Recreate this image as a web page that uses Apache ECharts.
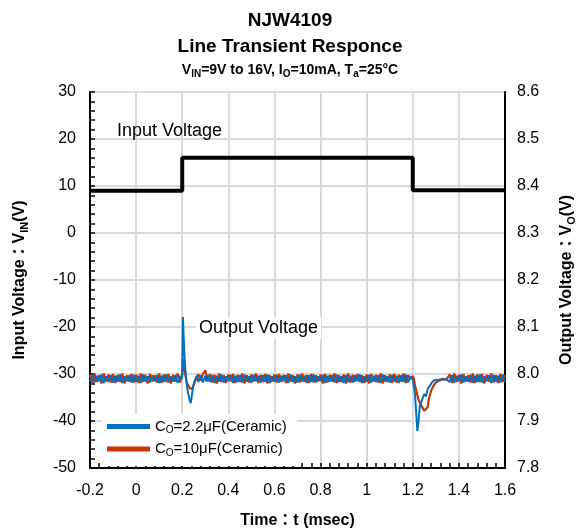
<!DOCTYPE html>
<html>
<head>
<meta charset="utf-8">
<script src="https://cdn.jsdelivr.net/npm/echarts@6/dist/echarts.min.js"></script>
<style>html,body{margin:0;padding:0;background:#fff;}#c{width:580px;height:529px;}</style>
</head>
<body>
<div id="c"></div>
<script>
// ---- data ----
const tIn = [-0.2, 0.2, 0.2, 1.2, 1.2, 1.6];
const vIn = [9, 9, 16, 16, 9.1, 9.1];

const tOut = [
 -0.20,-0.19,-0.18,-0.17,-0.16,-0.15,-0.14,-0.13,-0.12,-0.11,-0.10,-0.09,-0.08,-0.07,-0.06,-0.05,-0.04,-0.03,-0.02,-0.01,
 0.00,0.01,0.02,0.03,0.04,0.05,0.06,0.07,0.08,0.09,0.10,0.11,0.12,0.13,0.14,0.15,0.16,0.17,0.18,0.19,
 0.195,0.200,0.203,0.207,0.212,0.218,0.225,0.232,0.237,0.242,0.248,0.255,0.262,0.270,0.280,0.290,0.300,0.305,0.310,
 0.32,0.33,0.34,0.35,0.36,0.37,0.38,0.39,0.40,0.41,0.42,0.43,0.44,0.45,0.46,0.47,0.48,0.49,0.50,0.51,
 0.52,0.53,0.54,0.55,0.56,0.57,0.58,0.59,0.60,0.61,0.62,0.63,0.64,0.65,0.66,0.67,0.68,0.69,0.70,0.71,
 0.72,0.73,0.74,0.75,0.76,0.77,0.78,0.79,0.80,0.81,0.82,0.83,0.84,0.85,0.86,0.87,0.88,0.89,0.90,0.91,
 0.92,0.93,0.94,0.95,0.96,0.97,0.98,0.99,1.00,1.01,1.02,1.03,1.04,1.05,1.06,1.07,1.08,1.09,1.10,1.11,
 1.12,1.13,1.14,1.15,1.16,1.17,1.18,1.19,
 1.200,1.205,1.210,1.215,1.220,1.225,1.230,1.240,1.250,1.257,1.265,1.270,1.280,1.290,1.300,1.310,1.320,1.330,1.340,1.350,
 1.36,1.37,1.38,1.39,1.40,1.41,1.42,1.43,1.44,1.45,1.46,1.47,1.48,1.49,1.50,1.51,1.52,1.53,1.54,1.55,1.56,1.57,1.58,1.59,1.60
];

const vBlue = [
 7.984,7.997,7.982,7.996,7.985,7.999,7.981,7.995,7.983,7.998,7.982,7.996,7.984,7.999,7.981,7.995,7.985,7.997,7.982,7.998,
 7.983,7.996,7.981,7.999,7.984,7.995,7.982,7.997,7.985,7.998,7.981,7.996,7.983,7.999,7.982,7.995,7.984,7.997,7.981,7.996,
 7.988,7.995,8.121,8.070,8.020,7.985,7.960,7.945,7.938,7.955,7.975,7.986,7.996,7.983,7.997,7.982,7.996,7.984,7.998,
 7.983,7.997,7.981,7.996,7.984,7.999,7.982,7.995,7.985,7.998,7.981,7.996,7.983,7.997,7.982,7.999,7.984,7.995,7.981,7.998,
 7.985,7.996,7.982,7.997,7.983,7.999,7.981,7.995,7.984,7.998,7.982,7.996,7.985,7.997,7.981,7.999,7.983,7.995,7.982,7.998,
 7.984,7.996,7.981,7.997,7.983,7.999,7.982,7.995,7.985,7.998,7.981,7.996,7.984,7.997,7.982,7.999,7.983,7.995,7.981,7.998,
 7.983,7.996,7.982,7.997,7.985,7.999,7.981,7.995,7.984,7.998,7.982,7.996,7.983,7.997,7.981,7.999,7.984,7.995,7.982,7.998,
 7.984,7.996,7.981,7.997,7.983,7.999,7.982,7.995,
 7.988,7.985,7.955,7.915,7.879,7.900,7.930,7.945,7.958,7.952,7.968,7.972,7.980,7.986,7.988,7.987,7.989,7.988,7.989,7.987,
 7.983,7.997,7.981,7.996,7.985,7.999,7.982,7.995,7.984,7.998,7.981,7.996,7.983,7.999,7.982,7.995,7.985,7.997,7.981,7.998,7.984,7.996,7.982,7.999,7.983
];

const vOrange = [
 7.998,7.981,8.000,7.983,7.997,7.980,8.001,7.984,7.999,7.982,8.000,7.981,7.998,7.983,8.001,7.980,7.997,7.984,8.000,7.982,
 7.999,7.981,8.001,7.983,7.998,7.980,8.000,7.984,7.997,7.982,8.001,7.981,7.999,7.983,8.000,7.980,7.998,7.984,8.001,7.982,
 7.990,7.998,8.032,8.020,8.003,7.985,7.976,7.970,7.972,7.968,7.975,7.984,7.992,7.999,7.986,8.000,8.008,8.011,7.985,
 8.000,7.982,7.998,7.980,8.001,7.983,7.997,7.981,7.999,7.984,8.000,7.981,7.998,7.983,8.001,7.980,7.997,7.982,7.999,7.984,
 8.001,7.981,7.998,7.983,8.000,7.980,7.997,7.984,7.999,7.982,8.000,7.983,7.998,7.981,8.001,7.984,7.997,7.980,7.999,7.982,
 8.001,7.983,7.998,7.981,8.000,7.982,7.997,7.984,7.999,7.980,8.000,7.982,7.998,7.984,8.001,7.981,7.997,7.983,7.999,7.980,
 8.001,7.982,7.998,7.984,8.000,7.983,7.997,7.981,7.999,7.980,8.000,7.984,7.998,7.982,8.001,7.980,7.997,7.983,7.999,7.981,
 8.000,7.982,7.998,7.984,8.001,7.981,7.997,7.990,
 7.996,7.990,7.975,7.965,7.955,7.945,7.940,7.930,7.922,7.918,7.930,7.948,7.965,7.975,7.982,7.985,7.987,7.990,7.988,7.991,
 7.999,7.981,8.001,7.983,7.998,7.980,8.000,7.984,7.997,7.982,8.001,7.981,7.999,7.983,8.000,7.980,7.998,7.984,8.001,7.982,7.997,7.981,8.000,7.983,7.998
];

// ---- chart ----
const FONT = '"Liberation Sans", Arial, "Noto Sans CJK JP", sans-serif';
const zip = (a, b) => a.map((x, i) => [x, b[i]]);
const chart = echarts.init(document.getElementById('c'));
const fmt1 = v => String(Math.round(v * 10) / 10);
const nameRich = {
  b: { fontSize: 16, fontWeight: 'bold', color: '#000', fontFamily: FONT, lineHeight: 20 },
  s: { fontSize: 11, fontWeight: 'bold', color: '#000', fontFamily: FONT, lineHeight: 12, verticalAlign: 'bottom' }
};
const GRIDC = '#d9d9d9';
const option = {
  animation: false,
  backgroundColor: '#fff',
  textStyle: { fontFamily: FONT },
  title: [
    { text: 'NJW4109', left: 'center', top: 6, textStyle: { fontSize: 19, fontWeight: 'bold', color: '#000', fontFamily: FONT } },
    { text: 'Line Transient Responce', left: 'center', top: 32, textStyle: { fontSize: 19, fontWeight: 'bold', color: '#000', fontFamily: FONT } },
    { text: '{b|V}{s|IN}{b|=9V to 16V, I}{s|O}{b|=10mA, T}{s|a}{b|=25°C}', left: 'center', top: 57,
      textStyle: { rich: {
        b: { fontSize: 14, fontWeight: 'bold', color: '#000', fontFamily: FONT, lineHeight: 17 },
        s: { fontSize: 10, fontWeight: 'bold', color: '#000', fontFamily: FONT, lineHeight: 10, verticalAlign: 'bottom' } } } }
  ],
  grid: { left: 90, right: 75, top: 92, bottom: 61, outerBoundsMode: 'none', containLabel: false,
          show: true, borderColor: '#000', borderWidth: 2, backgroundColor: 'rgba(0,0,0,0)' },
  legend: {
    orient: 'vertical', left: 102, top: 414, itemWidth: 43, itemHeight: 5, itemGap: 6,
    backgroundColor: '#fff', padding: [5, 10, 8, 5], icon: 'rect',
    data: ['Co22', 'Co10'],
    formatter: n => n === 'Co22' ? '{a|C}{s|O}{a|=2.2μF(Ceramic)}' : '{a|C}{s|O}{a|=10μF(Ceramic)}',
    textStyle: { rich: {
      a: { fontSize: 15, color: '#000', fontFamily: FONT, lineHeight: 18 },
      s: { fontSize: 10, color: '#000', fontFamily: FONT, lineHeight: 10, verticalAlign: 'bottom' } } }
  },
  xAxis: {
    type: 'value', min: -0.2, max: 1.6, interval: 0.2,
    name: '{b|Time：t (msec)}', nameLocation: 'middle', nameGap: 43,
    nameTextStyle: { rich: nameRich },
    axisLine: { onZero: false, lineStyle: { color: '#000', width: 2 } },
    axisTick: { inside: true, length: 5, lineStyle: { color: '#000', width: 1.5 } },
    minorTick: { show: true, splitNumber: 5, length: 5, lineStyle: { color: '#000', width: 1.5 } },
    splitLine: { show: true, lineStyle: { color: GRIDC, width: 2, type: 'solid' } },
    axisLabel: { fontSize: 16, color: '#000', margin: 15, fontFamily: FONT, formatter: fmt1 }
  },
  yAxis: [
    {
      type: 'value', min: -50, max: 30, interval: 10, position: 'left',
      name: '{b|Input Voltage：V}{s|IN}{b|(V)}', nameLocation: 'middle', nameGap: 60, nameRotate: 90,
      nameTextStyle: { rich: nameRich },
      axisLine: { show: true, onZero: false, lineStyle: { color: '#000', width: 2 } },
      axisTick: { inside: true, length: 5, lineStyle: { color: '#000', width: 1.5 } },
      minorTick: { show: true, splitNumber: 5, length: 5, lineStyle: { color: '#000', width: 1.5 } },
      splitLine: { show: true, lineStyle: { color: GRIDC, width: 2, type: 'solid' } },
      axisLabel: { fontSize: 16, color: '#000', margin: 14, fontFamily: FONT }
    },
    {
      type: 'value', min: 7.8, max: 8.6, interval: 0.1, position: 'right',
      name: '{b|Output Voltage：V}{s|O}{b|(V)}', nameLocation: 'middle', nameGap: 52, nameRotate: 90,
      nameTextStyle: { rich: nameRich },
      axisLine: { show: true, onZero: false, lineStyle: { color: '#000', width: 2 } },
      axisTick: { show: false },
      splitLine: { show: false },
      axisLabel: { fontSize: 16, color: '#000', margin: 12, fontFamily: FONT, formatter: v => v.toFixed(1) }
    }
  ],
  graphic: [
    { type: 'text', left: 117, top: 122, z: 100, style: { text: 'Input Voltage', fontSize: 18, fill: '#000', fontFamily: FONT } },
    { type: 'text', left: 196, top: 317, z: 100, style: { text: 'Output Voltage', fontSize: 18, fill: '#000', fontFamily: FONT, backgroundColor: '#fff', padding: [2, 3, 2, 3] } }
  ],
  series: [
    { name: 'Vin', type: 'line', yAxisIndex: 0, data: zip(tIn, vIn), showSymbol: false, lineStyle: { color: '#000', width: 4 }, itemStyle: { color: '#000' }, z: 3 },
    { name: 'Co10', type: 'line', yAxisIndex: 1, data: zip(tOut, vOrange), showSymbol: false, lineStyle: { color: '#CC3300', width: 2.2 }, itemStyle: { color: '#CC3300' }, z: 3 },
    { name: 'Co22', type: 'line', yAxisIndex: 1, data: zip(tOut, vBlue), showSymbol: false, lineStyle: { color: '#0070C0', width: 2 }, itemStyle: { color: '#0070C0' }, z: 4 }
  ]
};
chart.setOption(option);
</script>
</body>
</html>
